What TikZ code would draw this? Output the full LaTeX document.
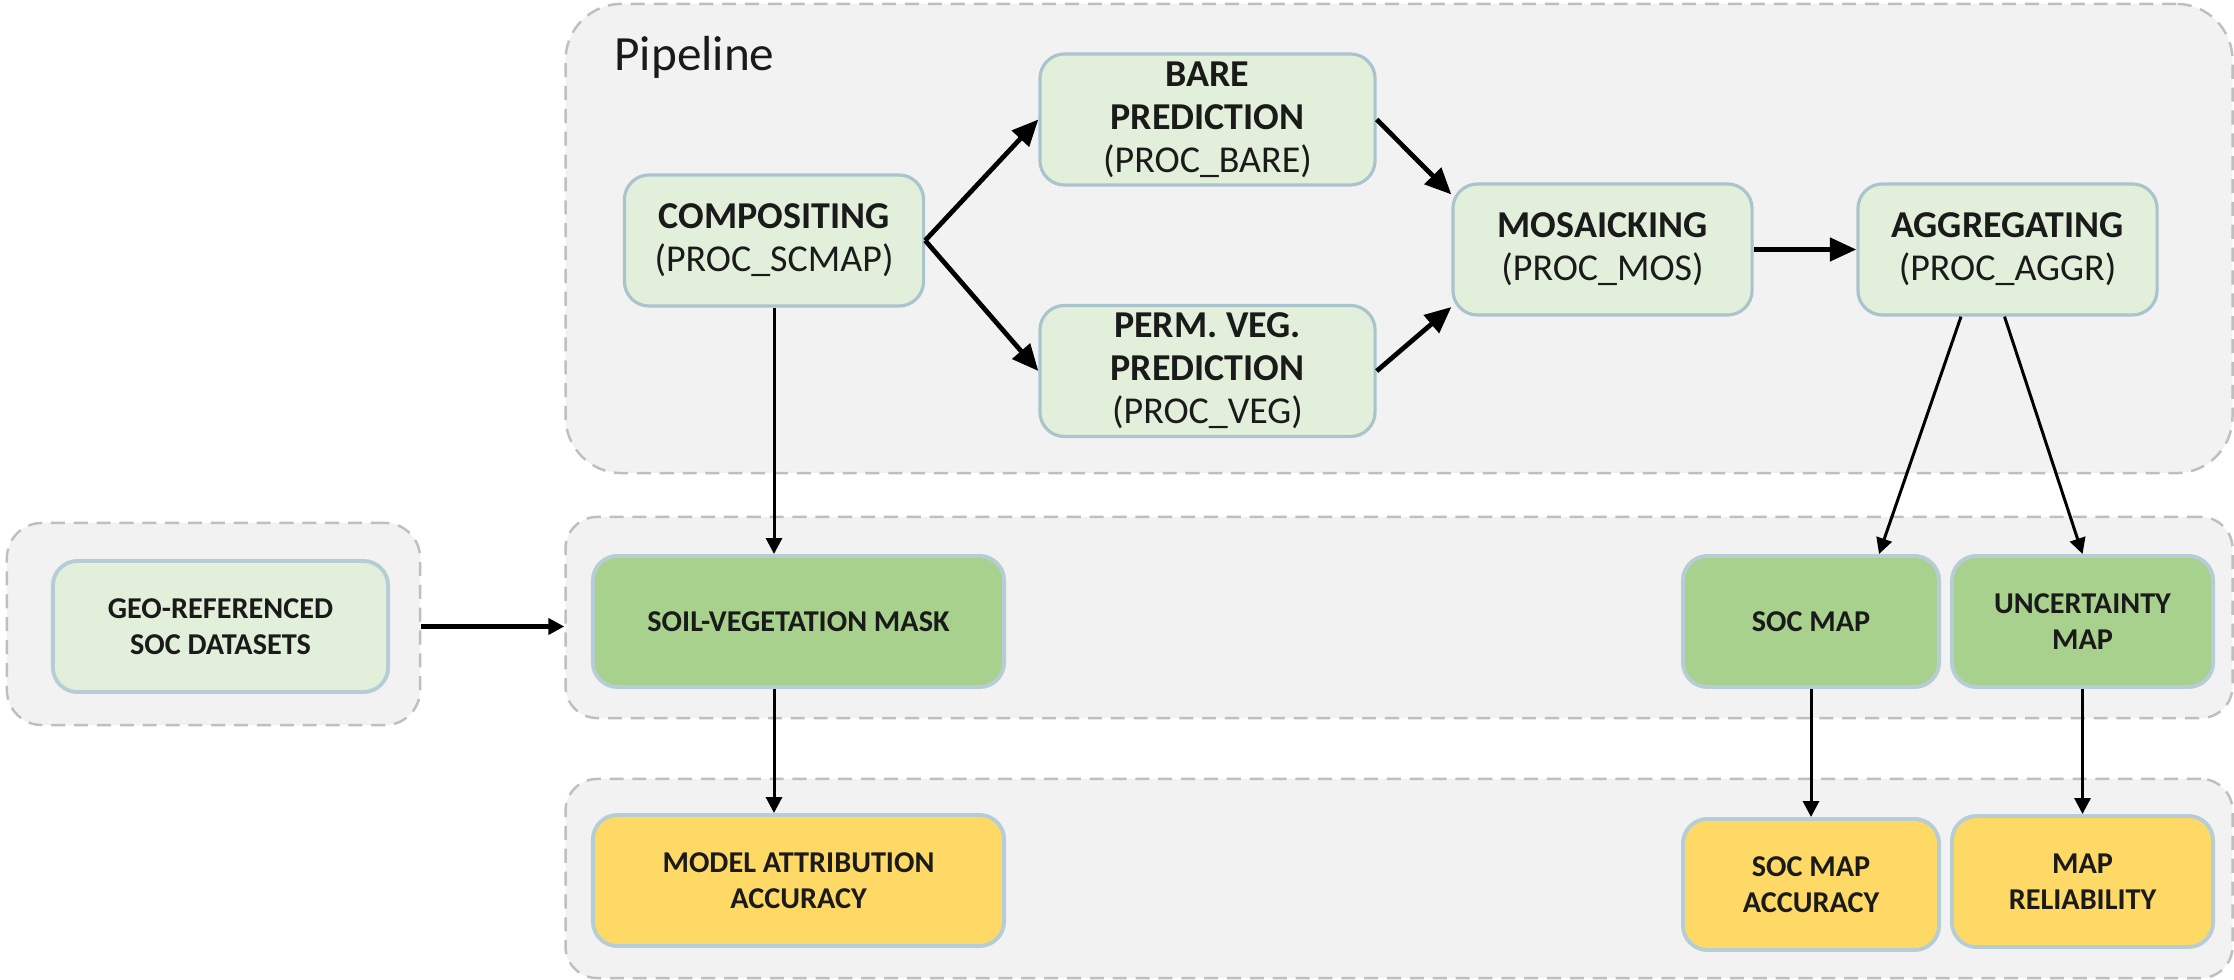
\documentclass[tikz,border=0pt]{standalone}
\usepackage{fontspec}
\setmainfont{Carlito}
\usetikzlibrary{arrows.meta}
\definecolor{contfill}{HTML}{F2F2F2}
\definecolor{contdraw}{HTML}{BFBFBF}
\definecolor{lgreen}{HTML}{E2EFDA}
\definecolor{dgreen}{HTML}{A9D18E}
\definecolor{yel}{HTML}{FFD966}
\definecolor{boxline}{HTML}{A9C4CC}
\definecolor{boxlineb}{HTML}{B6CDD6}
\definecolor{txt}{HTML}{1A1A1A}
\begin{document}
\begin{tikzpicture}[x=0.01cm,y=-0.01cm,
  container/.style={draw=contdraw, fill=contfill, line width=0.7pt, dash pattern=on 4pt off 2.5pt, inner sep=0pt},
  box/.style={draw=boxline, line width=0.9pt, rounded corners=7pt, align=center, inner sep=0pt, text=txt},
  pbox/.style={box, fill=lgreen, minimum height=1.31cm, font=\fontsize{10.8}{12.2}\selectfont},
  lbox/.style={box, draw=boxlineb, line width=1.1pt, minimum height=1.31cm, font=\fontsize{8.6}{10.3}\selectfont\bfseries},
  parr/.style={line width=1.35pt, -{Triangle[length=7.5pt,width=6.5pt]}},
  varr/.style={line width=0.85pt, -{Triangle[length=4.5pt,width=4.5pt]}},
  garr/.style={line width=1.4pt, -{Triangle[length=4.5pt,width=4.5pt]}}
]
\useasboundingbox (0,0) rectangle (2234,980);
% containers
\node[container, rounded corners=16pt, minimum width=16.66cm, minimum height=4.69cm] (pipec) at (1399,238.5) {};
\node[container, rounded corners=10pt, minimum width=4.13cm, minimum height=2.02cm] (leftc) at (213.5,624) {};
\node[container, rounded corners=9pt, minimum width=16.66cm, minimum height=2.01cm] (midc) at (1399,617.5) {};
\node[container, rounded corners=9pt, minimum width=16.66cm, minimum height=1.99cm] (botc) at (1399,878.5) {};
\node[anchor=west, font=\fontsize{14}{16}\selectfont, text=txt] (plabel) at (602,57) {Pipeline};
% pipeline boxes
\node[pbox, minimum width=2.99cm] (comp) at (774,240.5) {\textbf{COMPOSITING}\\(PROC\_SCMAP)};
\node[pbox, minimum width=3.35cm] (bare) at (1207.5,119.5) {\textbf{BARE}\\\textbf{PREDICTION}\\(PROC\_BARE)};
\node[pbox, minimum width=3.35cm] (veg) at (1207.5,371) {\textbf{PERM. VEG.}\\\textbf{PREDICTION}\\(PROC\_VEG)};
\node[pbox, minimum width=2.99cm] (mos) at (1602.5,249.5) {\textbf{MOSAICKING}\\(PROC\_MOS)};
\node[pbox, minimum width=2.99cm] (aggr) at (2007.5,249.5) {\textbf{AGGREGATING}\\(PROC\_AGGR)};
% lower boxes
\node[lbox, fill=lgreen, minimum width=3.35cm] (geo) at (220.5,626.5) {GEO-REFERENCED\\SOC DATASETS};
\node[lbox, fill=dgreen, minimum width=4.11cm] (soil) at (798.5,621.5) {SOIL-VEGETATION MASK};
\node[lbox, fill=dgreen, minimum width=2.56cm] (socmap) at (1811,621.5) {SOC MAP};
\node[lbox, fill=dgreen, minimum width=2.61cm] (unc) at (2082.5,621.5) {UNCERTAINTY\\MAP};
\node[lbox, fill=yel, minimum width=4.11cm] (model) at (798.5,880.5) {MODEL ATTRIBUTION\\ACCURACY};
\node[lbox, fill=yel, minimum width=2.56cm] (socacc) at (1811,884.5) {SOC MAP\\ACCURACY};
\node[lbox, fill=yel, minimum width=2.61cm] (maprel) at (2082.5,881.5) {MAP\\RELIABILITY};
% connectors
\draw[parr] (comp.east) -- (bare.west);
\draw[parr] (comp.east) -- (veg.west);
\draw[parr] (bare.east) -- ([yshift=0.55cm]mos.west);
\draw[parr] (veg.east) -- ([yshift=-0.575cm]mos.west);
\draw[parr] (mos.east) -- (aggr.west);
\draw[varr] (comp.south) -- (comp.south |- soil.north);
\draw[varr] (soil.south -| comp.south) -- (model.north -| comp.south);
\draw[garr] (leftc.east |- geo) -- (midc.west |- geo);
\draw[varr] ([xshift=-0.465cm]aggr.south) -- ([xshift=0.68cm]socmap.north);
\draw[varr] ([xshift=-0.03cm]aggr.south) -- (unc.north);
\draw[varr] (socmap.south) -- (socacc.north);
\draw[varr] (unc.south) -- (maprel.north);
\end{tikzpicture}
\end{document}
